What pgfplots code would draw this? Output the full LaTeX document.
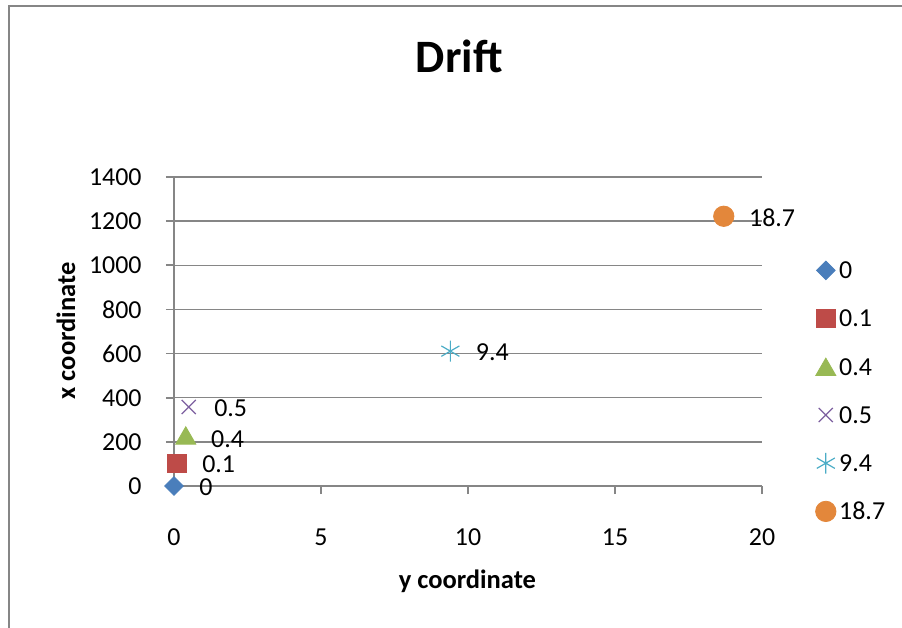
\documentclass[border=0pt]{standalone}
\usepackage{fontspec}
\setmainfont{Carlito}
\usepackage{pgfplots}
\pgfplotsset{compat=1.18}

\definecolor{cblue}{HTML}{4A7EBB}
\definecolor{cred}{HTML}{BE4B48}
\definecolor{cgreen}{HTML}{98B954}
\definecolor{cpurple}{HTML}{7D60A0}
\definecolor{caqua}{HTML}{4BACC6}
\definecolor{corange}{HTML}{E3873B}
\definecolor{gridgray}{HTML}{868686}

\begin{document}
\begin{tikzpicture}
\useasboundingbox (0bp,0bp) rectangle (451bp,314bp);
% chart frame (only left and top edges are visible)
\draw[line width=1bp, color=gridgray] (4.25bp,0bp) -- (4.25bp,311bp) -- (451bp,311bp);
\node[anchor=base, font=\fontsize{23.3}{28}\selectfont\bfseries] at (229.6bp,277.6bp) {Drift};

\begin{axis}[
    at={(87bp,71bp)}, anchor=south west,
    scale only axis, width=294bp, height=154.5bp,
    xmin=0, xmax=20, ymin=0, ymax=1400,
    xtick={0,5,...,20}, ytick={0,200,...,1400},
    axis x line=bottom, axis y line=left,
    axis line style={-, draw=gridgray, line width=0.8bp},
    ymajorgrids, grid style={draw=gridgray, line width=0.75bp},
    tick align=outside, major tick length=4bp,
    tick style={draw=gridgray, line width=0.8bp},
    /pgf/number format/assume math mode=true,
    /pgf/number format/1000 sep={},
    ticklabel style={font=\fontsize{13}{15.6}\selectfont, inner sep=0pt},
    xticklabel style={anchor=base, yshift=-25.5bp},
    yticklabel style={anchor=east, xshift=-12bp},
    xlabel={y coordinate}, ylabel={x coordinate},
    label style={font=\fontsize{13.3}{16}\selectfont\bfseries, inner sep=0pt},
    xlabel style={at={(rel axis cs:0.499,0)}, anchor=base, yshift=-51bp},
    ylabel style={at={(rel axis cs:0,0.5016)}, anchor=base, yshift=49.5bp},
    clip=false,
    every node near coord/.append style={anchor=west, inner sep=0pt,
        xshift=12.5bp, yshift=-0.5bp, text=black, font=\fontsize{13}{15.6}\selectfont},
    legend cell align=left,
    legend image code/.code={\draw[#1] plot coordinates {(0bp,0bp)};},
    legend style={draw=none, fill=none, inner sep=0pt,
        at={(rel axis cs:1.0905,0.7644)}, anchor=north west,
        column sep=1.6bp, row sep=3.9bp,
        nodes={anchor=west, inner sep=0pt, text height=14.2bp, text depth=6bp,
               font=\fontsize{13}{15.6}\selectfont}},
]
\addplot[only marks, mark=square*, mark size=3.3bp,
    mark options={rotate=45, draw=cblue, fill=cblue},
    nodes near coords={0}] coordinates {(0,0)};
\addlegendentry{0}
\addplot[only marks, mark=square*, mark size=4.6bp,
    mark options={draw=cred, fill=cred},
    nodes near coords={0.1}] coordinates {(0.1,103)};
\addlegendentry{0.1}
\addplot[only marks, mark=triangle*, mark size=5.8bp,
    mark options={draw=cgreen, fill=cgreen, yshift=-1.45bp},
    nodes near coords={0.4}] coordinates {(0.4,229)};
\addlegendentry{0.4}
\addplot[only marks, mark=x, mark size=5bp,
    mark options={draw=cpurple, line width=0.6bp},
    nodes near coords={0.5}] coordinates {(0.5,358)};
\addlegendentry{0.5}
\addplot[only marks, mark=asterisk, mark size=5.2bp,
    mark options={draw=caqua, line width=0.6bp},
    nodes near coords={9.4}] coordinates {(9.4,611)};
\addlegendentry{9.4}
\addplot[only marks, mark=*, mark size=5.1bp,
    mark options={draw=corange, fill=corange},
    nodes near coords={18.7}] coordinates {(18.7,1222)};
\addlegendentry{18.7}
\end{axis}
\end{tikzpicture}
\end{document}
